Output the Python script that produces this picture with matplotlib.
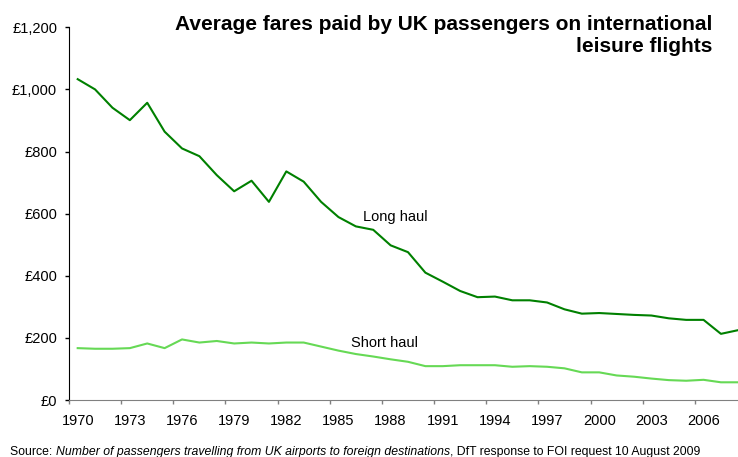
import matplotlib.pyplot as plt
from matplotlib.ticker import MultipleLocator, FuncFormatter

plt.rcParams['font.family'] = ['Liberation Sans', 'DejaVu Sans']

years = list(range(1970, 2009))
long_haul = [1033, 1000, 941, 901, 957, 864, 810, 785, 724, 672,
             706, 638, 736, 703, 638, 589, 559, 548, 498, 476,
             410, 381, 351, 331, 333, 321, 321, 314, 292, 278,
             280, 277, 274, 272, 263, 258, 258, 213, 225]
short_haul = [167, 165, 165, 167, 182, 167, 195, 185, 190, 182,
              185, 182, 185, 185, 172, 159, 148, 140, 131, 123,
              109, 109, 112, 112, 112, 107, 109, 107, 102, 89,
              89, 79, 75, 69, 64, 62, 65, 57, 57]
year_labels = years[::3]

fig = plt.figure(figsize=(7.38, 4.57), dpi=100)
W, H = 738, 457
# plot area runs a little past the right edge of the figure
ax = fig.add_axes([69 / W, (H - 400) / H, (747 - 69) / W, (400 - 27.3) / H])

ax.plot(years, long_haul, color='#008000', lw=1.5)
ax.plot(years, short_haul, color='#66d955', lw=1.5)

ax.set_xlim(1969.5, 2008.5)
ax.set_ylim(0, 1200)

ax.yaxis.set_major_locator(MultipleLocator(200))
ax.yaxis.set_major_formatter(FuncFormatter(lambda v, p: '£{:,.0f}'.format(v)))
ax.set_xticks(year_labels)
ax.set_xticklabels([str(y) for y in year_labels])
ax.set_xticks([y - 0.5 for y in year_labels], minor=True)

ax.tick_params(axis='y', direction='out', length=3, width=1, pad=5.5,
               labelsize=10.5, colors='black')
ax.tick_params(axis='x', which='major', length=0, pad=10, labelsize=10.5)
ax.tick_params(axis='x', which='minor', direction='out', length=3, width=1,
               color='#808080')

for s in ['top', 'right']:
    ax.spines[s].set_visible(False)
ax.spines['left'].set_color('black')
ax.spines['bottom'].set_color('#808080')

ax.text(1986.4, 589, 'Long haul', fontsize=10.5, va='center', ha='left')
ax.text(1985.7, 184, 'Short haul', fontsize=10.5, va='center', ha='left')

title_lines = ['Average fares paid by UK passengers on international',
               'leisure flights']
for i, line in enumerate(title_lines):
    fig.text(712 / W, 1 - (25 + 22 * i) / H, line, ha='right', va='center',
             fontsize=15, fontweight='bold')

# source line with the italic title in the middle
renderer = fig.canvas.get_renderer()
parts = [('Source: ', 'normal'),
         ('Number of passengers travelling from UK airports to foreign destinations', 'italic'),
         (', DfT response to FOI request 10 August 2009', 'normal')]
x = 10 / W
for txt, style in parts:
    t = fig.text(x, 1 - 452 / H, txt, fontsize=8.8, fontstyle=style,
                 ha='left', va='center')
    bb = t.get_window_extent(renderer)
    x += bb.width / W

fig.savefig('out.png', dpi=100)
